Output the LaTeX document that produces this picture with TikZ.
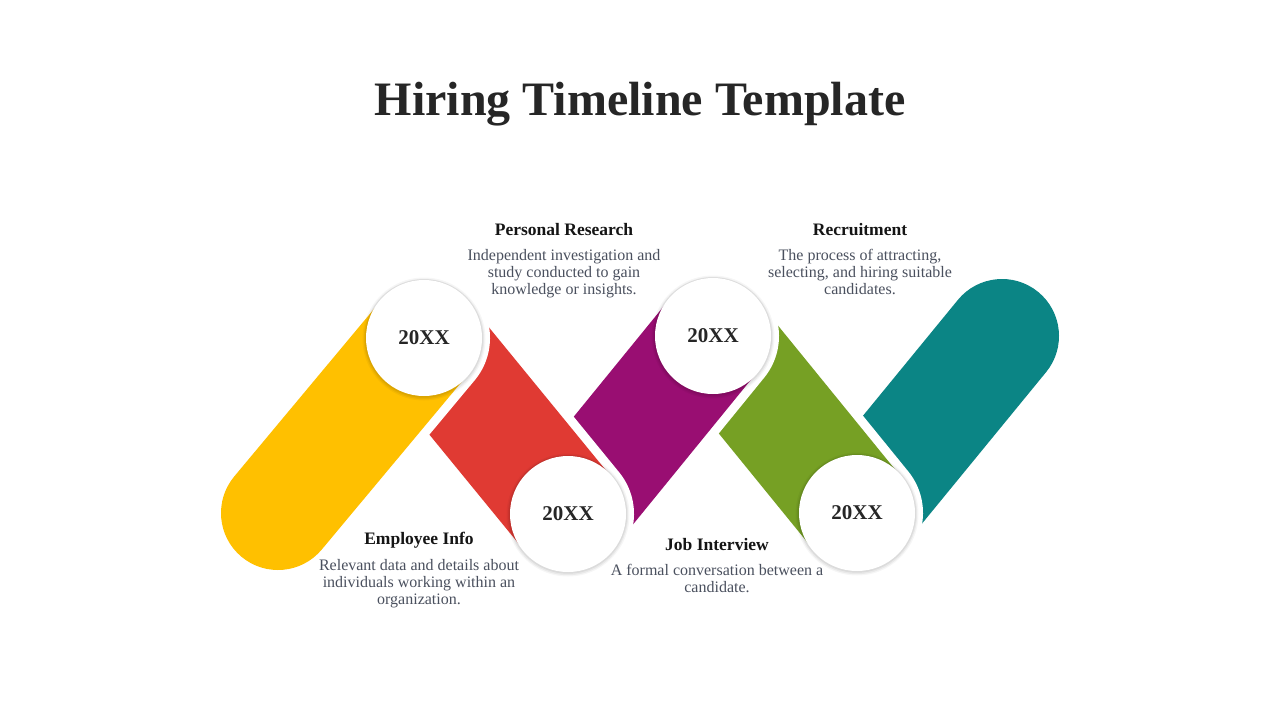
\documentclass[tikz,border=0pt]{standalone}
\usepackage{fontspec}
\setmainfont{Liberation Serif}
\usetikzlibrary{calc}
\definecolor{cyellow}{HTML}{FFC000}
\definecolor{cred}{HTML}{E03A33}
\definecolor{cpurple}{HTML}{990E72}
\definecolor{cgreen}{HTML}{76A024}
\definecolor{cteal}{HTML}{0B8585}
\definecolor{ctitle}{HTML}{262626}
\definecolor{chead}{HTML}{151515}
\definecolor{cbody}{HTML}{4A505E}
\tikzset{
  gapline/.style={line width=132pt, white, line cap=round},
  bandline/.style={line width=114pt, line cap=round},
  yearcirc/.style={circle, fill=white, minimum size=116pt, inner sep=0pt,
    font=\bfseries\fontsize{21}{24}\selectfont, text=ctitle},
  headtxt/.style={font=\bfseries\fontsize{17.5}{20}\selectfont, text=chead, anchor=center},
  bodytxt/.style={font=\fontsize{16}{17}\selectfont, text=cbody, align=center, anchor=north, inner sep=0pt},
}
\begin{document}
\begin{tikzpicture}[x=1pt,y=-1pt]
\useasboundingbox (0,0) rectangle (1280,720);
\fill[white] (0,0) rectangle (1280,720);
% vertices of the zigzag
\coordinate (p0) at (278,513);
\coordinate (p1) at (424,338);
\coordinate (p2) at (568,514);
\coordinate (p3) at (713,336);
\coordinate (p4) at (857,513);
\coordinate (p5) at (1002,336);
% bands, last first
\draw[gapline] (p4) -- (p5);
\draw[bandline, cteal] (p4) -- (p5);
\draw[gapline] (p3) -- (p4);
\draw[bandline, cgreen] (p3) -- (p4);
\draw[gapline] (p2) -- (p3);
\draw[bandline, cpurple] (p2) -- (p3);
\draw[gapline] (p1) -- (p2);
\draw[bandline, cred] (p1) -- (p2);
\draw[gapline] (p0) -- (p1);
\draw[bandline, cyellow] (p0) -- (p1);
% shadows and circles
\foreach \p in {p1,p2,p3,p4}{
  \fill[black, opacity=0.035] ($(\p)+(0,1)$) circle (61.5pt);
  \fill[black, opacity=0.05] ($(\p)+(0,1)$) circle (60.2pt);
  \fill[black, opacity=0.06] ($(\p)+(0,0.5)$) circle (59.2pt);
}
\node[yearcirc] (c1) at (p1) {20XX};
\node[yearcirc] (c2) at (p2) {20XX};
\node[yearcirc] (c3) at (p3) {20XX};
\node[yearcirc] (c4) at (p4) {20XX};
% title
\node[font=\bfseries\fontsize{48}{54}\selectfont, text=ctitle] (title) at (640,104) {Hiring Timeline Template};
% labels
\node[headtxt] (h1) at (564,230) {Personal Research};
\node[bodytxt] (b1) at (564,249) {Independent investigation and\\study conducted to gain\\knowledge or insights.};
\node[headtxt] (h2) at (860,230) {Recruitment};
\node[bodytxt] (b2) at (860,249) {The process of attracting,\\selecting, and hiring suitable\\candidates.};
\node[headtxt] (h3) at (419,540) {Employee Info};
\node[bodytxt] (b3) at (419,559) {Relevant data and details about\\individuals working within an\\organization.};
\node[headtxt] (h4) at (717,545) {Job Interview};
\node[bodytxt] (b4) at (717,564) {A formal conversation between a\\candidate.};
\end{tikzpicture}
\end{document}
